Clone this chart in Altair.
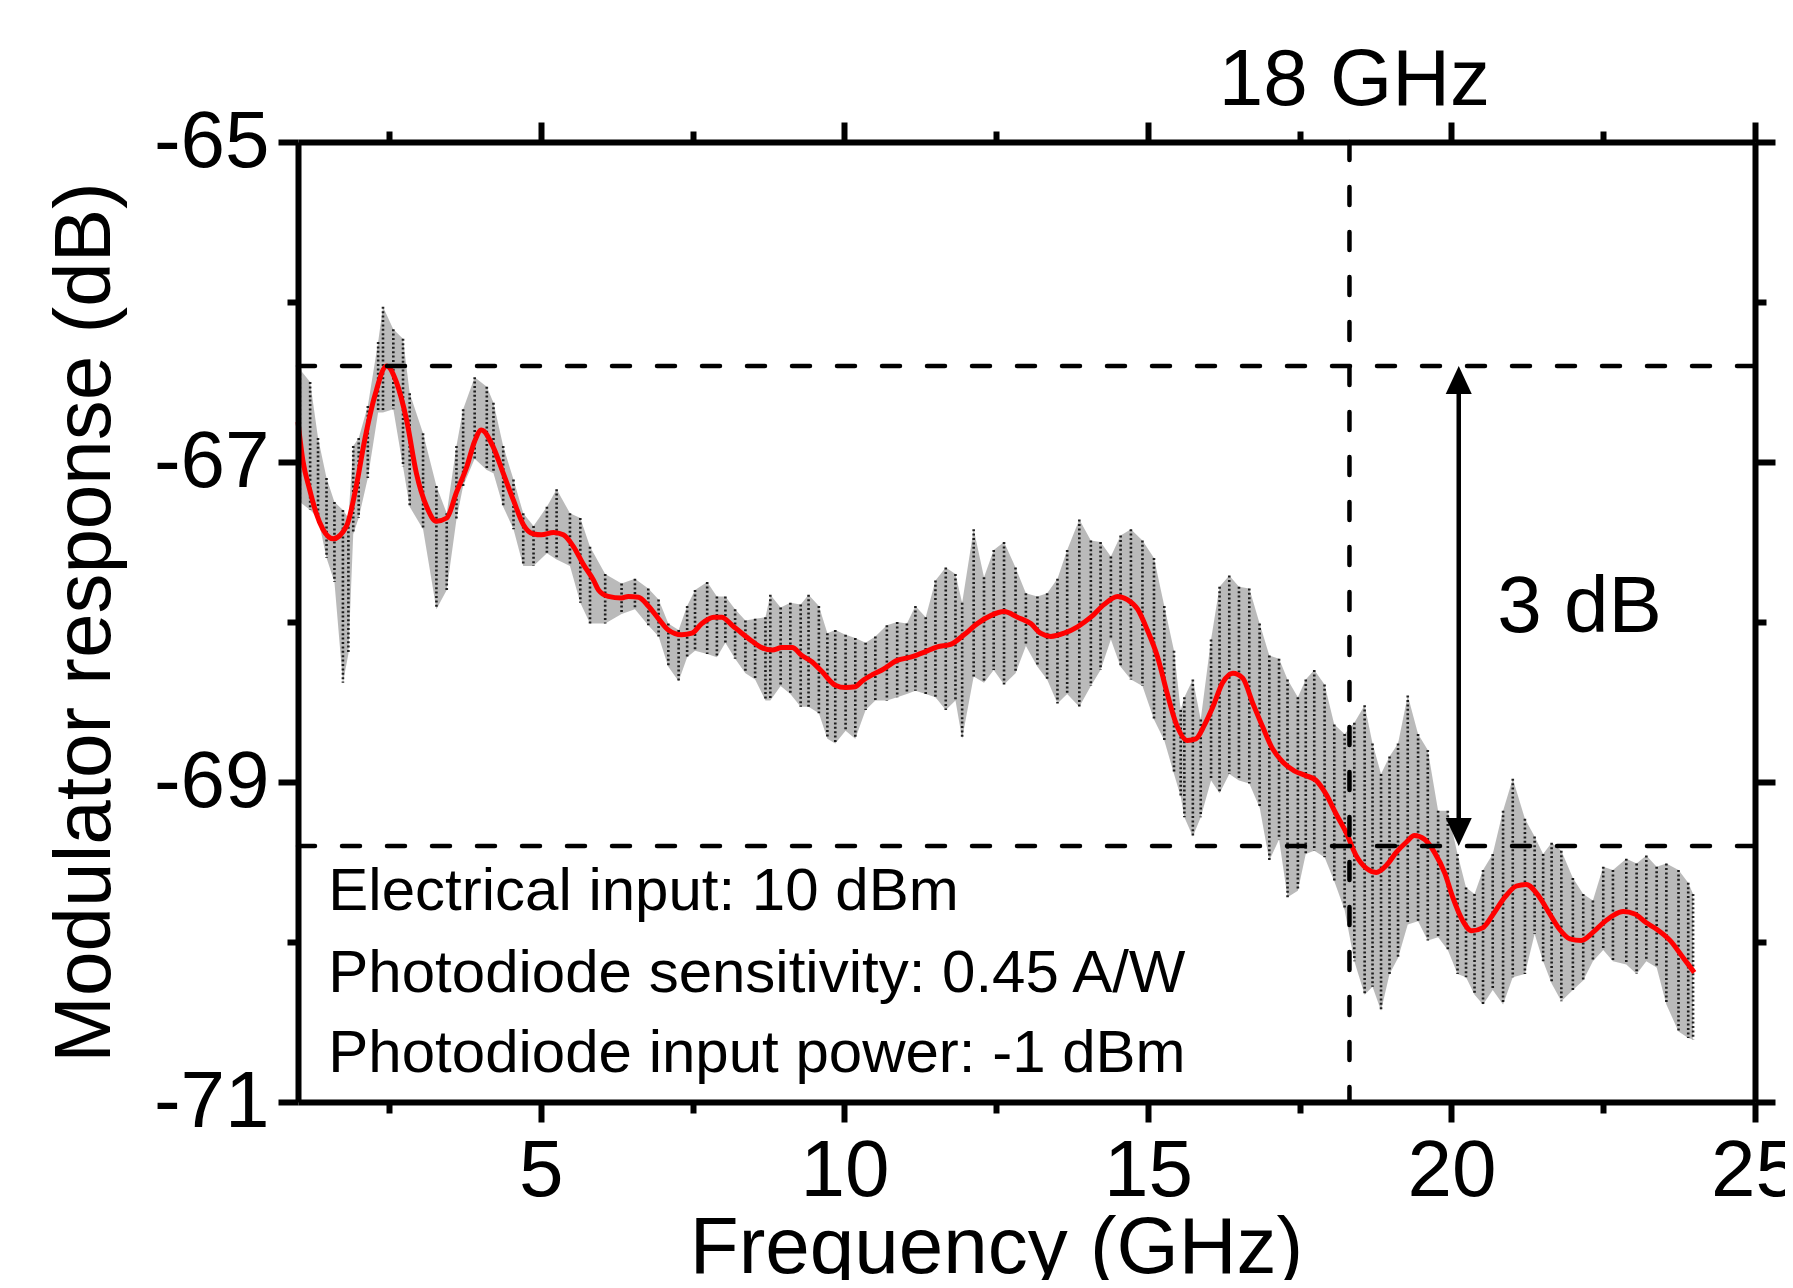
import altair as alt
import pandas as pd

FONT = "Liberation Sans"

# ---- data ----
red_freq = [1.00, 1.08, 1.19, 1.30, 1.41, 1.58, 1.80, 1.96, 2.10, 2.27, 2.46, 2.62, 2.79, 2.95, 3.12,
            3.28, 3.45, 3.61, 3.78, 3.91, 4.02, 4.22, 4.38, 4.55, 4.71, 4.88, 5.01, 5.21, 5.37, 5.54,
            5.70, 5.87, 5.95, 6.11, 6.33, 6.44, 6.61, 6.77, 6.94, 7.10, 7.32, 7.49, 7.65, 7.85, 7.98,
            8.15, 8.31, 8.48, 8.64, 8.81, 8.97, 9.14, 9.30, 9.47, 9.63, 9.85, 10.02, 10.18, 10.29,
            10.46, 10.62, 10.87, 11.09, 11.31, 11.53, 11.75, 11.97, 12.19, 12.41, 12.63, 12.85,
            13.07, 13.23, 13.40, 13.62, 13.84, 14.06, 14.28, 14.50, 14.66, 14.83, 14.99, 15.16,
            15.32, 15.46, 15.65, 15.79, 15.93, 16.07, 16.23, 16.40, 16.56, 16.73, 16.89, 17.05,
            17.22, 17.41, 17.60, 17.77, 17.94, 18.10, 18.27, 18.43, 18.60, 18.76, 18.93, 19.09,
            19.26, 19.39, 19.56, 19.72, 19.89, 20.02, 20.19, 20.33, 20.52, 20.69, 20.88, 21.07,
            21.23, 21.45, 21.62, 21.78, 21.95, 22.14, 22.33, 22.50, 22.66, 22.83, 23.02, 23.21,
            23.38, 23.60, 23.82, 24.00]
red_db = [-66.75, -66.99, -67.17, -67.32, -67.42, -67.48, -67.40, -67.15, -66.86, -66.58, -66.40,
          -66.50, -66.74, -67.07, -67.28, -67.37, -67.35, -67.19, -67.03, -66.87, -66.80, -66.91,
          -67.07, -67.24, -67.39, -67.45, -67.455, -67.44, -67.455, -67.53, -67.64, -67.74, -67.80,
          -67.84, -67.85, -67.84, -67.845, -67.90, -67.98, -68.05, -68.08, -68.07, -68.01, -67.97,
          -67.97, -68.02, -68.07, -68.12, -68.16, -68.175, -68.16, -68.16, -68.21, -68.25, -68.31,
          -68.395, -68.41, -68.405, -68.37, -68.33, -68.30, -68.24, -68.22, -68.19, -68.155,
          -68.14, -68.08, -68.01, -67.96, -67.935, -67.97, -68.01, -68.07, -68.09, -68.07, -68.03,
          -67.97, -67.89, -67.84, -67.86, -67.92, -68.05, -68.22, -68.45, -68.63, -68.74, -68.73,
          -68.645, -68.53, -68.38, -68.32, -68.35, -68.51, -68.655, -68.79, -68.875, -68.93,
          -68.96, -68.99, -69.08, -69.20, -69.32, -69.46, -69.54, -69.565, -69.52, -69.44,
          -69.375, -69.335, -69.36, -69.44, -69.57, -69.72, -69.87, -69.93, -69.91, -69.825,
          -69.72, -69.65, -69.64, -69.72, -69.825, -69.92, -69.98, -69.99, -69.94, -69.88,
          -69.835, -69.81, -69.825, -69.88, -69.92, -69.99, -70.10, -70.19]

noise_freq = [1.03, 1.20, 1.33, 1.47, 1.60, 1.74, 1.83, 1.91, 2.00, 2.15, 2.32, 2.40, 2.57, 2.73,
              2.84, 3.06, 3.28, 3.45, 3.61, 3.72, 3.91, 4.11, 4.22, 4.38, 4.55, 4.71, 4.88, 5.10,
              5.26, 5.48, 5.65, 5.81, 6.06, 6.33, 6.55, 6.77, 6.94, 7.10, 7.27, 7.41, 7.54, 7.74,
              7.90, 8.04, 8.20, 8.37, 8.53, 8.70, 8.78, 8.95, 9.11, 9.28, 9.41, 9.58, 9.72, 9.85,
              10.02, 10.18, 10.35, 10.51, 10.70, 10.87, 11.03, 11.17, 11.34, 11.50, 11.67, 11.83,
              11.94, 12.13, 12.30, 12.46, 12.63, 12.82, 12.99, 13.18, 13.34, 13.51, 13.67, 13.87,
              14.06, 14.22, 14.39, 14.55, 14.72, 14.91, 15.10, 15.27, 15.43, 15.54, 15.60, 15.74,
              15.87, 16.04, 16.18, 16.34, 16.50, 16.67, 16.84, 17.00, 17.16, 17.30, 17.47, 17.60,
              17.74, 17.91, 18.07, 18.24, 18.40, 18.57, 18.70, 18.84, 18.98, 19.12, 19.28, 19.45,
              19.61, 19.78, 19.94, 20.10, 20.24, 20.38, 20.52, 20.68, 20.85, 21.01, 21.21, 21.37,
              21.51, 21.65, 21.81, 22.00, 22.17, 22.33, 22.50, 22.66, 22.88, 23.05, 23.21, 23.38,
              23.54, 23.74, 23.90, 23.98]
noise_hi = [-66.42, -66.50, -66.85, -67.10, -67.25, -67.30, -67.35, -66.90, -66.85, -66.65, -66.25,
            -66.03, -66.17, -66.23, -66.57, -66.82, -67.15, -67.32, -66.90, -66.67, -66.47, -66.53,
            -66.63, -66.90, -67.11, -67.32, -67.40, -67.28, -67.17, -67.32, -67.35, -67.53, -67.70,
            -67.76, -67.73, -67.79, -67.86, -68.01, -68.05, -67.90, -67.80, -67.75, -67.84, -67.84,
            -67.92, -67.99, -67.98, -67.97, -67.83, -67.91, -67.88, -67.89, -67.83, -67.90, -68.07,
            -68.05, -68.08, -68.10, -68.13, -68.09, -68.02, -68.00, -68.01, -67.90, -67.97, -67.74,
            -67.66, -67.70, -67.88, -67.42, -67.72, -67.55, -67.50, -67.66, -67.82, -67.84, -67.82,
            -67.73, -67.55, -67.36, -67.49, -67.50, -67.59, -67.46, -67.42, -67.49, -67.60, -67.90,
            -68.18, -68.55, -68.47, -68.36, -68.61, -68.11, -67.78, -67.71, -67.78, -67.79, -68.01,
            -68.21, -68.23, -68.36, -68.47, -68.36, -68.30, -68.39, -68.64, -68.70, -68.63, -68.52,
            -68.76, -68.95, -68.84, -68.76, -68.46, -68.70, -68.80, -69.18, -69.18, -69.45, -69.66,
            -69.70, -69.55, -69.45, -69.18, -68.98, -69.23, -69.34, -69.45, -69.38, -69.43, -69.60,
            -69.70, -69.74, -69.53, -69.55, -69.48, -69.51, -69.46, -69.53, -69.51, -69.55, -69.63,
            -69.70]
noise_lo = [-67.25, -67.30, -67.35, -67.60, -67.75, -68.38, -68.20, -67.45, -67.35, -67.10, -66.69,
            -66.69, -66.67, -67.03, -67.28, -67.42, -67.92, -67.80, -67.36, -67.15, -66.98, -67.05,
            -67.07, -67.28, -67.42, -67.65, -67.65, -67.57, -67.61, -67.65, -67.88, -68.01, -68.01,
            -67.95, -67.92, -68.02, -68.09, -68.28, -68.37, -68.22, -68.18, -68.20, -68.22, -68.13,
            -68.23, -68.32, -68.36, -68.49, -68.49, -68.40, -68.45, -68.53, -68.53, -68.57, -68.73,
            -68.76, -68.68, -68.73, -68.55, -68.49, -68.49, -68.47, -68.45, -68.43, -68.45, -68.47,
            -68.55, -68.49, -68.73, -68.34, -68.38, -68.30, -68.39, -68.32, -68.15, -68.28, -68.36,
            -68.51, -68.45, -68.53, -68.40, -68.30, -68.11, -68.28, -68.36, -68.40, -68.61, -68.74,
            -68.95, -69.09, -69.22, -69.34, -69.22, -68.99, -69.07, -68.95, -68.99, -69.01, -69.16,
            -69.49, -69.36, -69.72, -69.68, -69.45, -69.43, -69.47, -69.62, -69.80, -70.12, -70.33,
            -70.28, -70.43, -70.20, -70.10, -69.89, -69.87, -69.99, -69.97, -70.05, -70.20, -70.22,
            -70.33, -70.39, -70.30, -70.39, -70.22, -70.20, -69.95, -70.12, -70.26, -70.37, -70.30,
            -70.24, -70.12, -70.05, -70.12, -70.14, -70.20, -70.12, -70.16, -70.39, -70.56, -70.60,
            -70.61]

x_major = [5, 10, 15, 20, 25]
x_minor = [2.5, 7.5, 12.5, 17.5, 22.5]
y_major = [-71, -69, -67, -65]
y_minor = [-70, -68, -66]

ref_levels = [-66.4, -69.4]
cutoff_freq = [18.32]
arrow_freq = 20.12

note_lines = ["Electrical input: 10 dBm", "Photodiode sensitivity: 0.45 A/W",
              "Photodiode input power: -1 dBm"]
note_freq = [1.50, 1.50, 1.50]
note_db = [-69.80, -70.31, -70.81]

# ---- scales / axes ----
xs = alt.Scale(domain=[1, 25], nice=False, zero=False)
ys = alt.Scale(domain=[-71, -65], nice=False, zero=False)

common = dict(grid=False, domainColor="black", domainWidth=6, tickColor="black", tickWidth=6,
              labelFont=FONT, labelFontSize=80, labelColor="black", titleFont=FONT,
              titleFontSize=80, titleFontWeight="normal", titleColor="black", zindex=2,
              labelFlush=False, labelOverlap=False)

ax_bottom = alt.Axis(orient="bottom", values=x_major, tickSize=20, labelPadding=10, domain=True,
                     title="Frequency (GHz)", titlePadding=-2, titleX=698, format="d", **common)
ax_top = alt.Axis(orient="top", values=x_major, tickSize=20, labels=False, domain=True,
                  title=None, **common)
ax_bottom_minor = alt.Axis(orient="bottom", values=x_minor, tickSize=11, labels=False,
                           domain=False, title=None, **common)
ax_top_minor = alt.Axis(orient="top", values=x_minor, tickSize=11, labels=False, domain=False,
                        title=None, **common)
ax_left = alt.Axis(orient="left", values=y_major, tickSize=20, labelPadding=9, domain=True,
                   title="Modulator response (dB)", titlePadding=27,
                   labelExpr="datum.value < 0 ? '-' + abs(datum.value) : '' + datum.value",
                   **common)
ax_right = alt.Axis(orient="right", values=y_major, tickSize=20, labels=False, domain=True,
                    title=None, **common)
ax_left_minor = alt.Axis(orient="left", values=y_minor, tickSize=11, labels=False, domain=False,
                         title=None, **common)
ax_right_minor = alt.Axis(orient="right", values=y_minor, tickSize=11, labels=False,
                          domain=False, title=None, **common)

noise_df = pd.DataFrame({"f": noise_freq, "hi": noise_hi, "lo": noise_lo})
red_df = pd.DataFrame({"f": red_freq, "db": red_db})

noise_band = alt.Chart(noise_df).mark_area(color="black", opacity=0.27, interpolate="linear").encode(
    x=alt.X("f:Q", scale=xs, axis=ax_bottom),
    y=alt.Y("hi:Q", scale=ys, axis=ax_left),
    y2="lo:Q",
)

noise_streaks = alt.Chart(noise_df).mark_rule(color="black", strokeWidth=2.6, opacity=0.85,
                                              strokeDash=[2, 2.4]).encode(
    x=alt.X("f:Q", scale=xs, axis=ax_top),
    y=alt.Y("hi:Q", scale=ys, axis=ax_right),
    y2="lo:Q",
)

red_line = alt.Chart(red_df).mark_line(color="#ff0000", strokeWidth=5, interpolate="monotone").encode(
    x=alt.X("f:Q", scale=xs, axis=ax_bottom_minor),
    y=alt.Y("db:Q", scale=ys, axis=ax_left_minor),
)

vline = alt.Chart(pd.DataFrame({"f": cutoff_freq})).mark_rule(
    color="black", strokeWidth=4.5, strokeDash=[18, 27], strokeCap="round").encode(
    x=alt.X("f:Q", scale=xs, axis=ax_top_minor),
)

hlines = alt.Chart(pd.DataFrame({"db": ref_levels})).mark_rule(
    color="black", strokeWidth=4.5, strokeDash=[18, 27], strokeCap="round").encode(
    y=alt.Y("db:Q", scale=ys, axis=ax_right_minor),
)

arrow_df = pd.DataFrame({"f": [arrow_freq], "top": [ref_levels[0]], "bot": [ref_levels[1]]})
arrow_line = alt.Chart(arrow_df).mark_rule(color="black", strokeWidth=4.5, yOffset=6,
                                           y2Offset=-6).encode(
    x=alt.X("f:Q", scale=xs, axis=None),
    y=alt.Y("top:Q", scale=ys, axis=None),
    y2="bot:Q",
)
head_up = alt.Chart(arrow_df).mark_point(
    shape="M0,-1L-0.93,1L0.93,1Z", size=784, filled=True, color="black", opacity=1,
    strokeWidth=0, yOffset=14).encode(
    x=alt.X("f:Q", scale=xs, axis=None),
    y=alt.Y("top:Q", scale=ys, axis=None),
)
head_down = alt.Chart(arrow_df).mark_point(
    shape="M0,1L-0.93,-1L0.93,-1Z", size=784, filled=True, color="black", opacity=1,
    strokeWidth=0, yOffset=-14).encode(
    x=alt.X("f:Q", scale=xs, axis=None),
    y=alt.Y("bot:Q", scale=ys, axis=None),
)

notes = alt.Chart(pd.DataFrame({"f": note_freq, "db": note_db, "t": note_lines})).mark_text(
    font=FONT, fontSize=60, align="left", baseline="alphabetic", color="black").encode(
    x=alt.X("f:Q", scale=xs, axis=None),
    y=alt.Y("db:Q", scale=ys, axis=None),
    text="t:N",
)

labels_df = pd.DataFrame({"f": [18.40, 22.11], "db": [-64.77, -68.06], "t": ["18 GHz", "3 dB"]})
big_labels = alt.Chart(labels_df).mark_text(
    font=FONT, fontSize=80, align="center", baseline="alphabetic", color="black").encode(
    x=alt.X("f:Q", scale=xs, axis=None),
    y=alt.Y("db:Q", scale=ys, axis=None),
    text="t:N",
)

chart = alt.layer(
    noise_band, noise_streaks, red_line, vline, hlines, arrow_line, head_up, head_down,
    notes, big_labels,
).resolve_axis(x="independent", y="independent").properties(
    width=1457, height=960,
    padding={"left": 290, "top": 134, "right": 30, "bottom": 178},
    autosize=alt.AutoSizeParams(type="none"),
).configure_view(strokeWidth=0)

chart.save("out.html", embed_options={"renderer": "svg", "actions": False})
